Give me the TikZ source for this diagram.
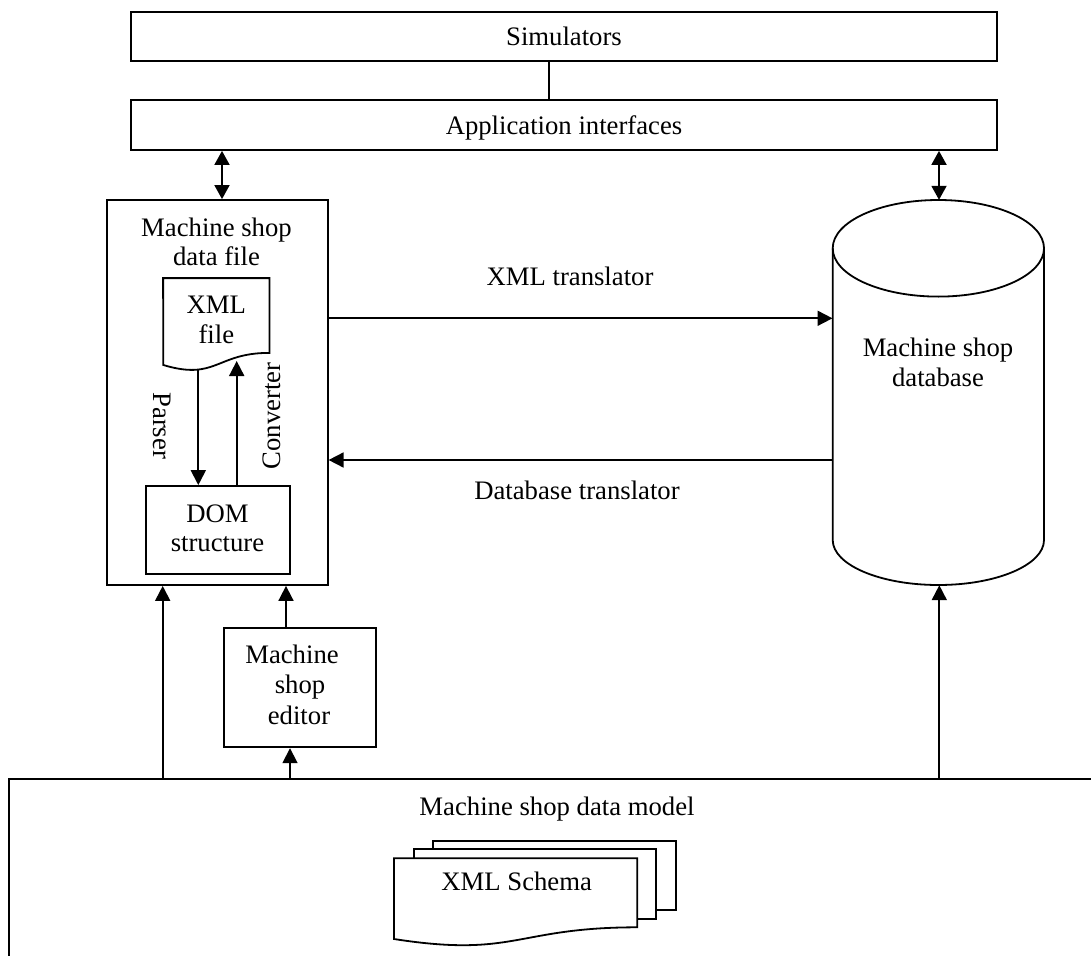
\documentclass[tikz,border=0pt]{standalone}
\usepackage{fontspec}
\setmainfont{Liberation Serif}
\usetikzlibrary{arrows.meta}
\begin{document}
\begin{tikzpicture}[x=1pt,y=-1pt,
  box/.style={draw, line width=1.8pt, rectangle, inner sep=0pt, fill=white},
  shp/.style={draw, line width=1.8pt, fill=white},
  ghost/.style={inner sep=0pt, rectangle},
  txt/.style={font=\fontsize{26.7}{30}\selectfont, inner sep=0pt, anchor=base},
  rtxt/.style={font=\fontsize{26.7}{30}\selectfont, inner sep=0pt},
  arr/.style={line width=1.8pt, -{Triangle[length=15pt,width=15pt]}},
  darr/.style={line width=1.8pt, {Triangle[length=14pt,width=15pt]}-{Triangle[length=14pt,width=15pt]}}]
\useasboundingbox (0,0) rectangle (1091,955);
\clip (0,0) rectangle (1091,955);

% top boxes
\node[box, minimum width=866pt, minimum height=49pt] (sim) at (564,36.5) {};
\node[txt] (simt) at (564,45.5) {Simulators};
\node[box, minimum width=866pt, minimum height=50pt] (app) at (564,125) {};
\node[txt] (appt) at (564,134.5) {Application interfaces};
\coordinate (c1) at (549,0);
\draw[line width=1.2pt] (sim.south -| c1) -- (app.north -| c1);

% machine shop data file
\node[box, minimum width=221pt, minimum height=385pt] (df) at (217.2,392.5) {};
\node[txt] (dft1) at (216.5,236.7) {Machine shop};
\node[txt] (dft2) at (216.5,265.5) {data file};

% XML file (document shape)
\node[ghost, minimum width=106pt, minimum height=74.4pt] (xmlf) at (216.3,315.5) {};
\draw[shp] (xmlf.north west) -- (xmlf.north east) -- (xmlf.south east)
  .. controls (216.3,352.7) and (216.3,381) .. (163.3,365) -- cycle;
\node[txt] (xf1) at (216.3,313.3) {XML};
\node[txt] (xf2) at (216.3,343.3) {file};

% DOM structure
\node[box, minimum width=144.3pt, minimum height=88pt] (dom) at (217.85,530) {};
\node[txt] (dm1) at (217.5,522.7) {DOM};
\node[txt] (dm2) at (217.5,551.7) {structure};

\coordinate (ps) at (198.3,369.5);
\draw[arr] (ps) -- (dom.north -| ps);
\coordinate (cv) at (236.7,361);
\draw[arr] (dom.north -| cv) -- (cv);
\node[rtxt, rotate=-90] (parser) at (162,425.7) {Parser};
\node[rtxt, rotate=90] (conv) at (271.5,415.8) {Converter};

% database cylinder
\node[ghost, minimum width=211.3pt, minimum height=385pt] (db) at (938.35,392.5) {};
\draw[shp] (832.7,248.3) -- (832.7,540)
  arc[start angle=180, end angle=360, x radius=105.65pt, y radius=45pt]
  -- (1044,248.3)
  arc[start angle=0, end angle=180, x radius=105.65pt, y radius=48.3pt] -- cycle;
\draw[line width=1.8pt] (832.7,248.3)
  arc[start angle=180, end angle=360, x radius=105.65pt, y radius=48.3pt];
\node[txt] (dbt1) at (938,356.7) {Machine shop};
\node[txt] (dbt2) at (938,386.7) {database};

% translators
\coordinate (y1) at (0,318.3);
\draw[arr] (df.east |- y1) -- (db.west |- y1);
\node[txt] (xt) at (570,285) {XML translator};
\coordinate (y2) at (0,460);
\draw[arr] (db.west |- y2) -- (df.east |- y2);
\node[txt] (dt) at (577,499) {Database translator};

% double arrows from application interfaces
\coordinate (x1) at (222,0);
\draw[darr] (app.south -| x1) -- (df.north -| x1);
\coordinate (x2) at (939,0);
\draw[darr] (app.south -| x2) -- (db.north -| x2);

% editor
\node[box, minimum width=151.7pt, minimum height=119.3pt] (ed) at (299.85,687.65) {};
\node[txt] (ed1) at (292,663.3) {Machine};
\node[txt] (ed2) at (300,693.3) {shop};
\node[txt] (ed3) at (299,724) {editor};

% data model
\node[draw, line width=1.8pt, inner sep=0pt, minimum width=1110pt, minimum height=220pt] (dmod) at (564.3,889.3) {};
\node[txt] (dmt) at (557,815) {Machine shop data model};

\coordinate (x3) at (162.7,0);
\draw[arr] (dmod.north -| x3) -- (df.south -| x3);
\coordinate (x4) at (290,0);
\draw[arr] (dmod.north -| x4) -- (ed.south -| x4);
\coordinate (x5) at (286,0);
\draw[arr] (ed.north -| x5) -- (df.south -| x5);
\coordinate (x6) at (939.3,0);
\draw[arr] (dmod.north -| x6) -- (db.south -| x6);

% XML Schema stack
\draw[shp] (432.7,840.7) rectangle (676,910);
\draw[shp] (414,849.3) rectangle (655.7,919.3);
\draw[shp] (394,858.3) -- (637.3,858.3) -- (637.3,927.3)
  .. controls (515.65,927.3) and (515.65,958) .. (394,939) -- cycle;
\node[txt] (xs) at (516.7,890.7) {XML Schema};
\end{tikzpicture}
\end{document}
